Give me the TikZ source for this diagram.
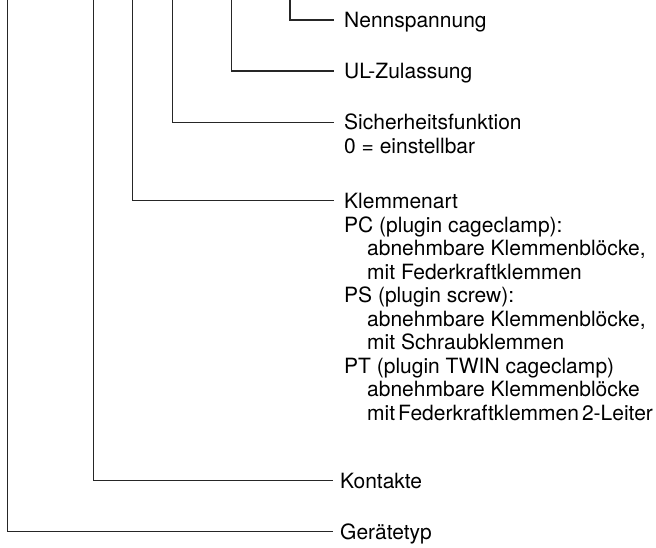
\documentclass[tikz,border=0pt]{standalone}
\usepackage{fontspec}
\setmainfont{TeX Gyre Heros}
\usetikzlibrary{positioning}

\tikzset{
  lbl/.style={anchor=west, inner sep=0pt, text height=15pt, text depth=0pt,
    font=\fontsize{21}{23.5}\selectfont},
  info/.style={align=left, inner sep=0pt, font=\fontsize{21}{23.5}\selectfont},
  wire/.style={line width=1.3pt, draw=black!85, shorten >=10pt},
}
\newcommand{\einzug}{\hspace*{23pt}}

\begin{document}
\begin{tikzpicture}[x=1pt, y=-1pt]
  \useasboundingbox (0,0) rectangle (656,548);

  % Anfangspunkte oben
  \coordinate (tger) at (7.3,0);
  \coordinate (tkon) at (93.3,0);
  \coordinate (tklm) at (132.3,0);
  \coordinate (tsic) at (172.7,0);
  \coordinate (tul) at (231.7,0);
  \coordinate (tnenn) at (290,0);

  % Bezeichnungen
  \node[lbl] (nenn) at (344,20) {Nennspannung};
  \node[lbl] (ul) at (344,71) {UL-Zulassung};
  \node[lbl] (sicher) at (344,122.3) {Sicherheitsfunktion};
  \node[info, below=8.4pt of sicher.south west, anchor=north west] (sicherinfo) {0 = einstellbar};
  \node[lbl] (klemme) at (344,200.7) {Klemmenart};
  \node[info, below=8.2pt of klemme.south west, anchor=north west] (klemmeinfo)
    {PC (plugin cageclamp):\\
     \einzug abnehmbare Klemmenblöcke,\\
     \einzug mit Federkraftklemmen\\
     PS (plugin screw):\\
     \einzug abnehmbare Klemmenblöcke,\\
     \einzug mit Schraubklemmen\\
     PT (plugin TWIN cageclamp)\\
     \einzug abnehmbare Klemmenblöcke\\
     \einzug mit\hspace{3pt}Federkraftklemmen\hspace{3pt}2-Leiter};
  \node[lbl] (kontakt) at (340,480.7) {Kontakte};
  \node[lbl] (geraet) at (340,531.7) {Gerätetyp};

  % Verbindungslinien
  \draw[wire] (tnenn) |- (nenn.west);
  \draw[wire] (tul) |- (ul.west);
  \draw[wire] (tsic) |- (sicher.west);
  \draw[wire] (tklm) |- (klemme.west);
  \draw[wire, shorten >=7pt] (tkon) |- (kontakt.west);
  \draw[wire, shorten >=7pt] (tger) |- (geraet.west);
\end{tikzpicture}
\end{document}
